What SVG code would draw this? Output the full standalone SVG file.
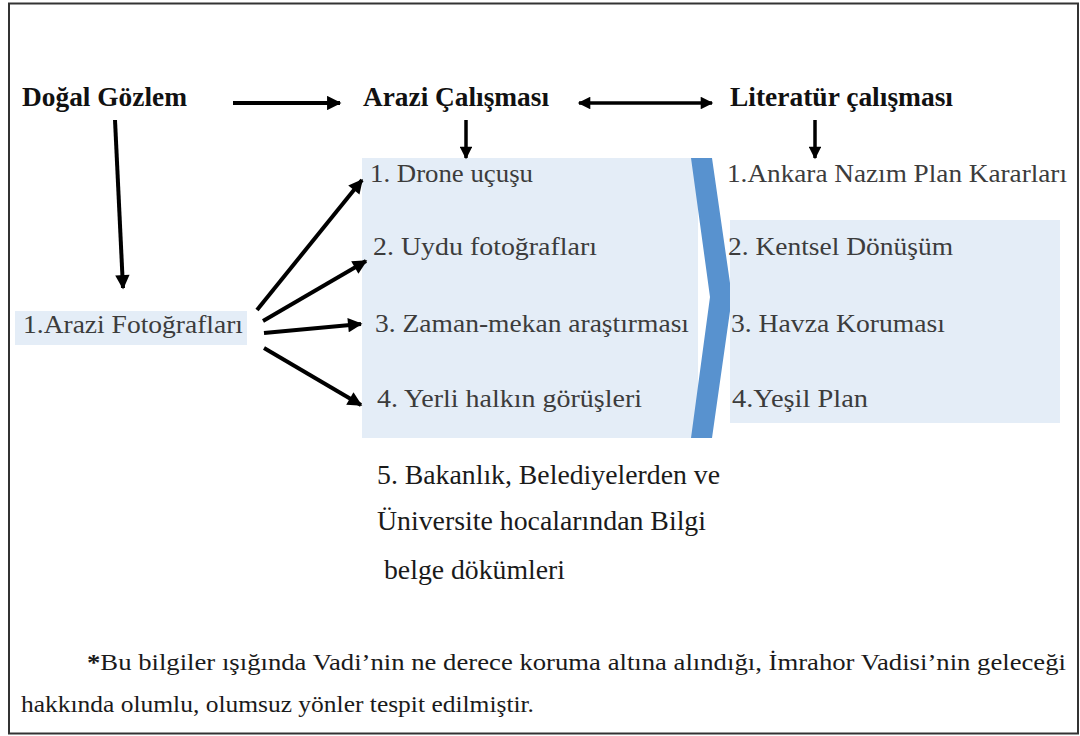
<svg xmlns="http://www.w3.org/2000/svg" width="1080" height="736" viewBox="0 0 1080 736">
  <defs>
    <style>
      .head { fill: #111; }
      .item { fill: #3c3c3c; }
      .plain { fill: #1a1a1a; }
      .note { fill: #1a1a1a; }
      .box { fill: #e4edf7; }
      .arrow { stroke: #000; stroke-width: 4; fill: none; }
      .arrow3 { stroke: #000; stroke-width: 3.5; fill: none; }
    </style>
    <marker id="ah" viewBox="0 0 10 10" refX="9" refY="5" markerWidth="4" markerHeight="3.6" orient="auto-start-reverse" markerUnits="strokeWidth">
      <path d="M0,0 L10,5 L0,10 z" fill="#000"/>
    </marker>
  </defs>

  <rect x="9" y="3.5" width="1069" height="730" fill="#fff" stroke="#333" stroke-width="2"/>

  <g font-family="'Liberation Serif', 'Times New Roman', serif">
  <g id="node-dogal-gozlem" font-size="27" font-weight="bold">
    <text class="head" x="22" y="106" textLength="165" lengthAdjust="spacingAndGlyphs">Doğal Gözlem</text>
  </g>
  <g id="node-arazi-calismasi" font-size="27" font-weight="bold">
    <text class="head" x="363" y="106" textLength="186" lengthAdjust="spacingAndGlyphs">Arazi Çalışması</text>
  </g>
  <g id="node-literatur" font-size="27" font-weight="bold">
    <text class="head" x="730" y="106" textLength="223" lengthAdjust="spacingAndGlyphs">Literatür çalışması</text>
  </g>

  <g id="node-arazi-fotograflari" font-size="25">
    <rect class="box" x="15" y="311" width="232" height="34"/>
    <text class="item" x="23" y="333" textLength="220" lengthAdjust="spacingAndGlyphs">1.Arazi Fotoğrafları</text>
  </g>

  <g id="node-arazi-list" font-size="25">
    <rect class="box" x="362" y="158" width="336" height="280"/>
    <text class="item" x="370" y="182" textLength="163" lengthAdjust="spacingAndGlyphs">1. Drone uçuşu</text>
    <text class="item" x="373" y="255" textLength="224" lengthAdjust="spacingAndGlyphs">2. Uydu fotoğrafları</text>
    <text class="item" x="375" y="332" textLength="314" lengthAdjust="spacingAndGlyphs">3. Zaman-mekan araştırması</text>
    <text class="item" x="377" y="407" textLength="265" lengthAdjust="spacingAndGlyphs">4. Yerli halkın görüşleri</text>
  </g>

  <g id="node-chevron">
    <polygon points="691,158 712,158 732,297 712,438 691,438 710,297" fill="#5892cf"/>
  </g>

  <g id="node-literatur-list" font-size="25">
    <rect class="box" x="730" y="220" width="330" height="203"/>
    <text class="item" x="727" y="182" textLength="340" lengthAdjust="spacingAndGlyphs">1.Ankara Nazım Plan Kararları</text>
    <text class="item" x="728" y="255" textLength="225" lengthAdjust="spacingAndGlyphs">2. Kentsel Dönüşüm</text>
    <text class="item" x="731" y="332" textLength="214" lengthAdjust="spacingAndGlyphs">3. Havza Koruması</text>
    <text class="item" x="732" y="407" textLength="136" lengthAdjust="spacingAndGlyphs">4.Yeşil Plan</text>
  </g>

  <g id="node-bakanlik" font-size="27">
    <text class="plain" x="377" y="484" textLength="343" lengthAdjust="spacingAndGlyphs">5. Bakanlık, Belediyelerden ve</text>
    <text class="plain" x="377" y="530" textLength="329" lengthAdjust="spacingAndGlyphs">Üniversite hocalarından Bilgi</text>
    <text class="plain" x="384" y="579" textLength="181" lengthAdjust="spacingAndGlyphs">belge dökümleri</text>
  </g>

  <g id="node-footnote" font-size="23">
    <text class="note" x="87" y="670" textLength="979" lengthAdjust="spacingAndGlyphs"><tspan font-weight="bold">*</tspan>Bu bilgiler ışığında Vadi’nin ne derece koruma altına alındığı, İmrahor Vadisi’nin geleceği</text>
    <text class="note" x="21" y="712" textLength="513" lengthAdjust="spacingAndGlyphs">hakkında olumlu, olumsuz yönler tespit edilmiştir.</text>
  </g>
  </g>

  <g id="connectors">
    <line class="arrow" x1="233" y1="103" x2="340" y2="103" marker-end="url(#ah)"/>
    <line class="arrow3" x1="579" y1="103" x2="712" y2="103" marker-start="url(#ah)" marker-end="url(#ah)"/>
    <line class="arrow3" x1="466" y1="120" x2="466" y2="158" marker-end="url(#ah)"/>
    <line class="arrow3" x1="815" y1="120" x2="815" y2="158" marker-end="url(#ah)"/>
    <line class="arrow" x1="115" y1="120" x2="123" y2="288" marker-end="url(#ah)"/>
    <line class="arrow" x1="257" y1="310" x2="362" y2="180" marker-end="url(#ah)"/>
    <line class="arrow" x1="263" y1="321" x2="366" y2="261" marker-end="url(#ah)"/>
    <line class="arrow" x1="264" y1="333" x2="361" y2="324" marker-end="url(#ah)"/>
    <line class="arrow" x1="264" y1="348" x2="361" y2="405" marker-end="url(#ah)"/>
  </g>
</svg>
